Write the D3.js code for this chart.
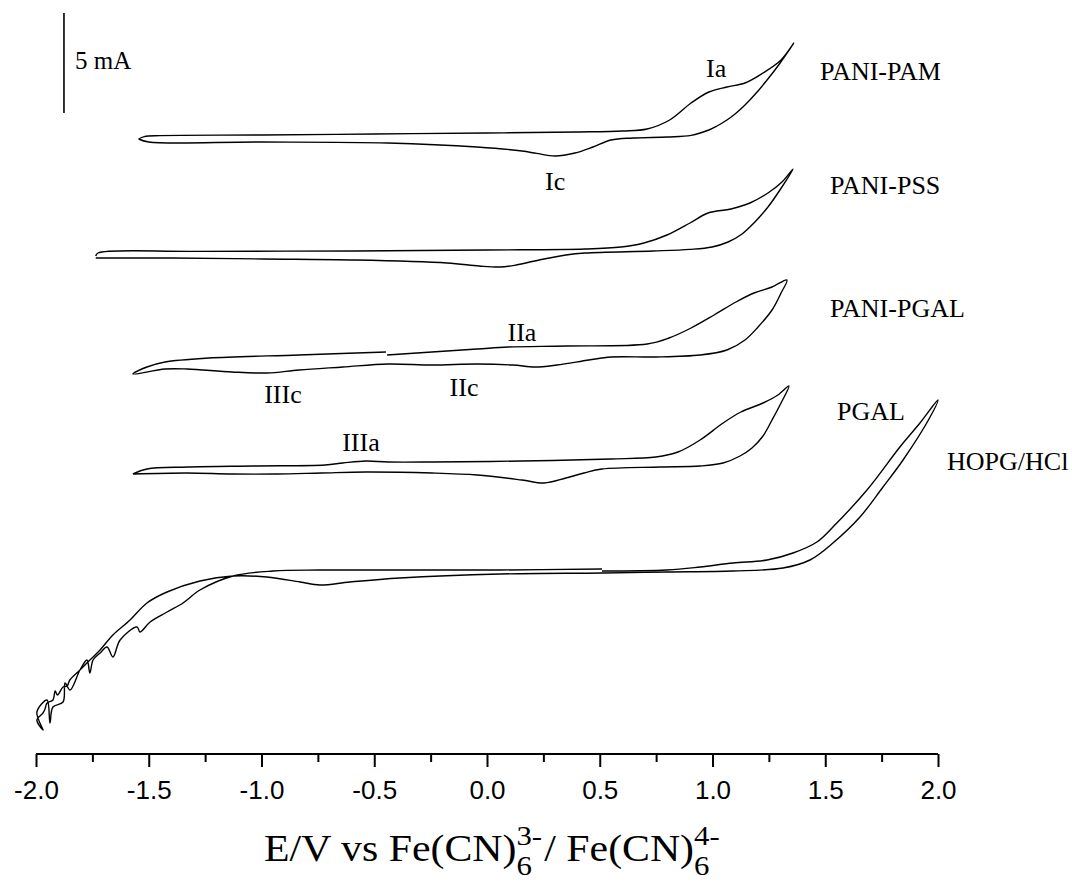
<!DOCTYPE html>
<html><head><meta charset="utf-8">
<script src="https://cdn.jsdelivr.net/npm/d3@7"></script>
<style>body{margin:0;background:#fff} svg{display:block}</style>
</head><body>
<svg id="chart" width="1072" height="886"></svg>
<script>
// ---------- data ----------
const majorTicks = [-2.0, -1.5, -1.0, -0.5, 0.0, 0.5, 1.0, 1.5, 2.0];
const tickLabels = ["-2.0", "-1.5", "-1.0", "-0.5", "0.0", "0.5", "1.0", "1.5", "2.0"];
const minorTicks = [-1.75, -1.25, -0.75, -0.25, 0.25, 0.75, 1.25, 1.75];

// [E (V), I (mA, stacked offset included)]
const pamLoop = [
  [-1.545, 30.8], [-1.52, 30.92], [-1.45, 30.97], [-1.0, 31.0], [-0.5, 31.05], [0.0, 31.1],
  [0.4, 31.15], [0.6, 31.2], [0.71, 31.3], [0.81, 31.75], [0.905, 32.6], [0.984, 33.15],
  [1.064, 33.4], [1.144, 33.6], [1.224, 34.1], [1.304, 34.75], [1.361, 35.6],
  [1.30, 34.6], [1.242, 33.75], [1.19, 33.05], [1.144, 32.5], [1.10, 32.05], [1.064, 31.75],
  [1.02, 31.45], [0.984, 31.25], [0.905, 30.98], [0.80, 30.9],
  [0.647, 30.85], [0.55, 30.75], [0.47, 30.4], [0.39, 30.1], [0.302, 29.95], [0.22, 30.08],
  [0.155, 30.2], [-0.044, 30.4], [-0.439, 30.6], [-1.0, 30.65], [-1.5, 30.65], [-1.545, 30.8]
];
const pssLoop = [
  [-1.735, 24.95], [-1.725, 25.1], [-1.3, 25.18], [-0.585, 25.2], [0.0, 25.25], [0.435, 25.3],
  [0.594, 25.4], [0.696, 25.6], [0.798, 26.0], [0.900, 26.6], [0.980, 27.1], [1.082, 27.3],
  [1.166, 27.6], [1.246, 28.1], [1.308, 28.65], [1.357, 29.3],
  [1.299, 28.25], [1.246, 27.4], [1.188, 26.65], [1.131, 26.05], [1.069, 25.65], [0.998, 25.4],
  [0.900, 25.28], [0.736, 25.2], [0.435, 25.1], [0.350, 25.0], [0.231, 24.75], [0.129, 24.5], [0.058, 24.4],
  [-0.035, 24.45], [-0.177, 24.6], [-0.585, 24.75], [-0.993, 24.8], [-1.397, 24.85], [-1.735, 24.85]
];
const panipgalLoop = [
  [-0.443, 20.0], [-0.044, 20.3], [0.093, 20.4], [0.350, 20.45], [0.710, 20.55], [0.807, 20.85],
  [0.905, 21.35], [1.007, 22.0], [1.104, 22.65], [1.184, 23.1], [1.264, 23.4], [1.330, 23.75],
  [1.304, 23.1], [1.264, 22.25], [1.202, 21.4], [1.144, 20.75], [1.064, 20.25], [0.945, 20.0],
  [0.749, 19.9], [0.550, 19.9], [0.452, 19.75], [0.310, 19.5], [0.213, 19.4], [0.115, 19.5],
  [-0.044, 19.55], [-0.244, 19.5], [-0.439, 19.55], [-0.639, 19.4], [-0.834, 19.25], [-0.976, 19.1],
  [-1.131, 19.15], [-1.330, 19.3], [-1.428, 19.3], [-1.570, 19.05],
  [-1.508, 19.4], [-1.428, 19.65], [-1.233, 19.85], [-0.834, 20.0], [-0.448, 20.15]
];
const pgalLoop = [
  [-1.570, 14.05], [-1.508, 14.3], [-1.330, 14.4], [-1.033, 14.45], [-0.718, 14.5], [-0.639, 14.6],
  [-0.537, 14.7], [-0.439, 14.65], [-0.244, 14.65], [0.155, 14.7], [0.550, 14.8], [0.749, 14.9],
  [0.847, 15.15], [0.945, 15.75], [1.047, 16.6], [1.126, 17.15], [1.224, 17.6], [1.290, 18.0], [1.339, 18.45],
  [1.304, 17.6], [1.264, 16.75], [1.224, 15.95], [1.175, 15.35], [1.122, 14.95], [1.047, 14.6],
  [0.945, 14.45], [0.767, 14.4], [0.510, 14.3], [0.430, 14.1], [0.350, 13.85], [0.253, 13.6], [0.155, 13.75],
  [-0.044, 14.0], [-0.244, 14.1], [-0.537, 14.15], [-0.736, 14.1], [-0.936, 14.05], [-1.131, 14.05],
  [-1.330, 14.1], [-1.570, 14.05]
];
const hopgLoop = [
  [0.510, 9.2], [0.798, 9.25], [0.945, 9.4], [1.091, 9.6], [1.242, 9.75], [1.357, 10.1], [1.463, 10.65],
  [1.534, 11.4], [1.685, 13.25], [1.831, 15.4], [1.920, 16.6], [2.0, 17.75],
  [1.965, 16.9], [1.845, 14.75], [1.756, 13.4], [1.654, 11.9], [1.534, 10.6], [1.432, 9.75],
  [1.313, 9.35], [1.091, 9.2], [0.798, 9.15], [0.510, 9.1],
  [0.058, 9.05], [-0.386, 8.85], [-0.608, 8.65], [-0.741, 8.5], [-0.829, 8.65], [-0.976, 8.9], [-1.126, 8.95],
  [-1.273, 8.7], [-1.419, 8.15], [-1.508, 7.6], [-1.583, 6.75], [-1.659, 6.0], [-1.716, 5.25],
  [-1.761, 4.75], [-1.805, 4.25], [-1.850, 3.75], [-1.862, 3.45], [-1.880, 3.4], [-1.905, 3.0],
  [-1.915, 3.2], [-1.925, 2.75], [-1.951, 2.6], [-1.960, 2.3], [-1.969, 2.1],
  [-1.996, 1.75], [-1.969, 1.25],
  [-1.996, 2.15], [-1.951, 2.75], [-1.938, 1.6], [-1.925, 2.4], [-1.880, 2.65], [-1.871, 3.6],
  [-1.849, 3.25], [-1.805, 4.25], [-1.774, 4.75], [-1.761, 4.1], [-1.747, 4.75], [-1.716, 5.1],
  [-1.685, 5.4], [-1.659, 4.9], [-1.627, 5.75], [-1.552, 6.4], [-1.539, 6.15], [-1.494, 6.65],
  [-1.419, 7.15], [-1.348, 7.6], [-1.273, 8.25], [-1.126, 8.95],
  [-0.949, 9.2], [-0.741, 9.25], [-0.386, 9.25], [0.058, 9.25], [0.510, 9.3]
];
const curves = [pamLoop, pssLoop, panipgalLoop, pgalLoop, hopgLoop];

const seriesNames = ["PANI-PAM", "PANI-PSS", "PANI-PGAL", "PGAL", "HOPG/HCl"];
const seriesNameAt = [[1.477, 33.75], [1.521, 28.05], [1.521, 21.9], [1.552, 16.75], [2.040, 14.25]];
const peakNames = ["Ia", "Ic", "IIa", "IIc", "IIIc", "IIIa"];
const peakNameAt = [[1.016, 33.9], [0.302, 28.25], [0.155, 20.7], [-0.102, 17.95], [-0.905, 17.6], [-0.559, 15.2]];
const scaleBar = { E: -1.876, from: 32.1, size: 5, label: "5 mA" };

// ---------- drawing ----------
const svg = d3.select("#chart");
const x = d3.scaleLinear().domain([-2, 2]).range([36, 938]);
const y = d3.scaleLinear().domain([0, 37.75]).range([755, 0]);
const axisY = 754;

const serif = "'Liberation Serif','Times New Roman',serif";
const sans = "'Liberation Sans',Arial,sans-serif";

const line = d3.line().x(d => x(d[0])).y(d => y(d[1])).curve(d3.curveCatmullRom.alpha(0.5));
svg.append("g").selectAll("path").data(curves).join("path")
  .attr("d", line).attr("fill", "none").attr("stroke", "#000").attr("stroke-width", 1.4)
  .attr("stroke-linejoin", "round");

// x axis
const gx = svg.append("g").attr("transform", `translate(0,${axisY})`);
gx.call(d3.axisBottom(x).tickValues(majorTicks).tickSize(13).tickPadding(0)
  .tickFormat((d, i) => tickLabels[i]));
gx.select(".domain").attr("d", `M${x(-2)},0H${x(2)}`).attr("stroke-width", 2.2);
gx.selectAll(".tick line").attr("stroke-width", 2);
gx.selectAll(".tick text").attr("y", 45).attr("dy", 0)
  .attr("font-family", sans).attr("font-size", 26).attr("fill", "#000");
const gm = svg.append("g").attr("transform", `translate(0,${axisY})`);
gm.call(d3.axisBottom(x).tickValues(minorTicks).tickSize(8).tickFormat(""));
gm.select(".domain").remove();
gm.selectAll(".tick line").attr("stroke-width", 2);

// scale bar
svg.append("line").attr("x1", x(scaleBar.E)).attr("x2", x(scaleBar.E))
  .attr("y1", y(scaleBar.from)).attr("y2", y(scaleBar.from + scaleBar.size))
  .attr("stroke", "#000").attr("stroke-width", 1.6);
svg.append("text").attr("x", x(scaleBar.E) + 11).attr("y", 69)
  .attr("font-family", serif).attr("font-size", 25).text(scaleBar.label);

// labels
svg.append("g").selectAll("text").data(seriesNames).join("text")
  .attr("x", (d, i) => x(seriesNameAt[i][0])).attr("y", (d, i) => y(seriesNameAt[i][1]))
  .attr("font-family", serif).attr("font-size", 26).text(d => d);
svg.append("g").selectAll("text").data(peakNames).join("text")
  .attr("x", (d, i) => x(peakNameAt[i][0])).attr("y", (d, i) => y(peakNameAt[i][1]))
  .attr("text-anchor", "middle")
  .attr("font-family", serif).attr("font-size", 26).text(d => d);

// x title with stacked sub/superscripts
const tg = svg.append("g");
const base = 861, big = 38, small = 28;
let cx = 0;
function addMain(s) {
  const t = tg.append("text").attr("x", cx).attr("y", base).attr("font-family", serif)
    .attr("font-size", big).text(s);
  cx += t.node().getComputedTextLength();
}
function addStack(sup, sub) {
  const a = tg.append("text").attr("x", cx).attr("y", base - 16).attr("font-family", serif)
    .attr("font-size", small).text(sup);
  const b = tg.append("text").attr("x", cx).attr("y", base + 14).attr("font-family", serif)
    .attr("font-size", small).text(sub);
  cx += Math.max(a.node().getComputedTextLength(), b.node().getComputedTextLength()) + 2;
}
addMain("E/V vs Fe(CN)");
addStack("3-", "6");
addMain("/ Fe(CN)");
addStack("4-", "6");
const sx = 1.1;
tg.attr("transform", `translate(${493 - sx * cx / 2},0) scale(${sx},1)`);
</script>
</body></html>
